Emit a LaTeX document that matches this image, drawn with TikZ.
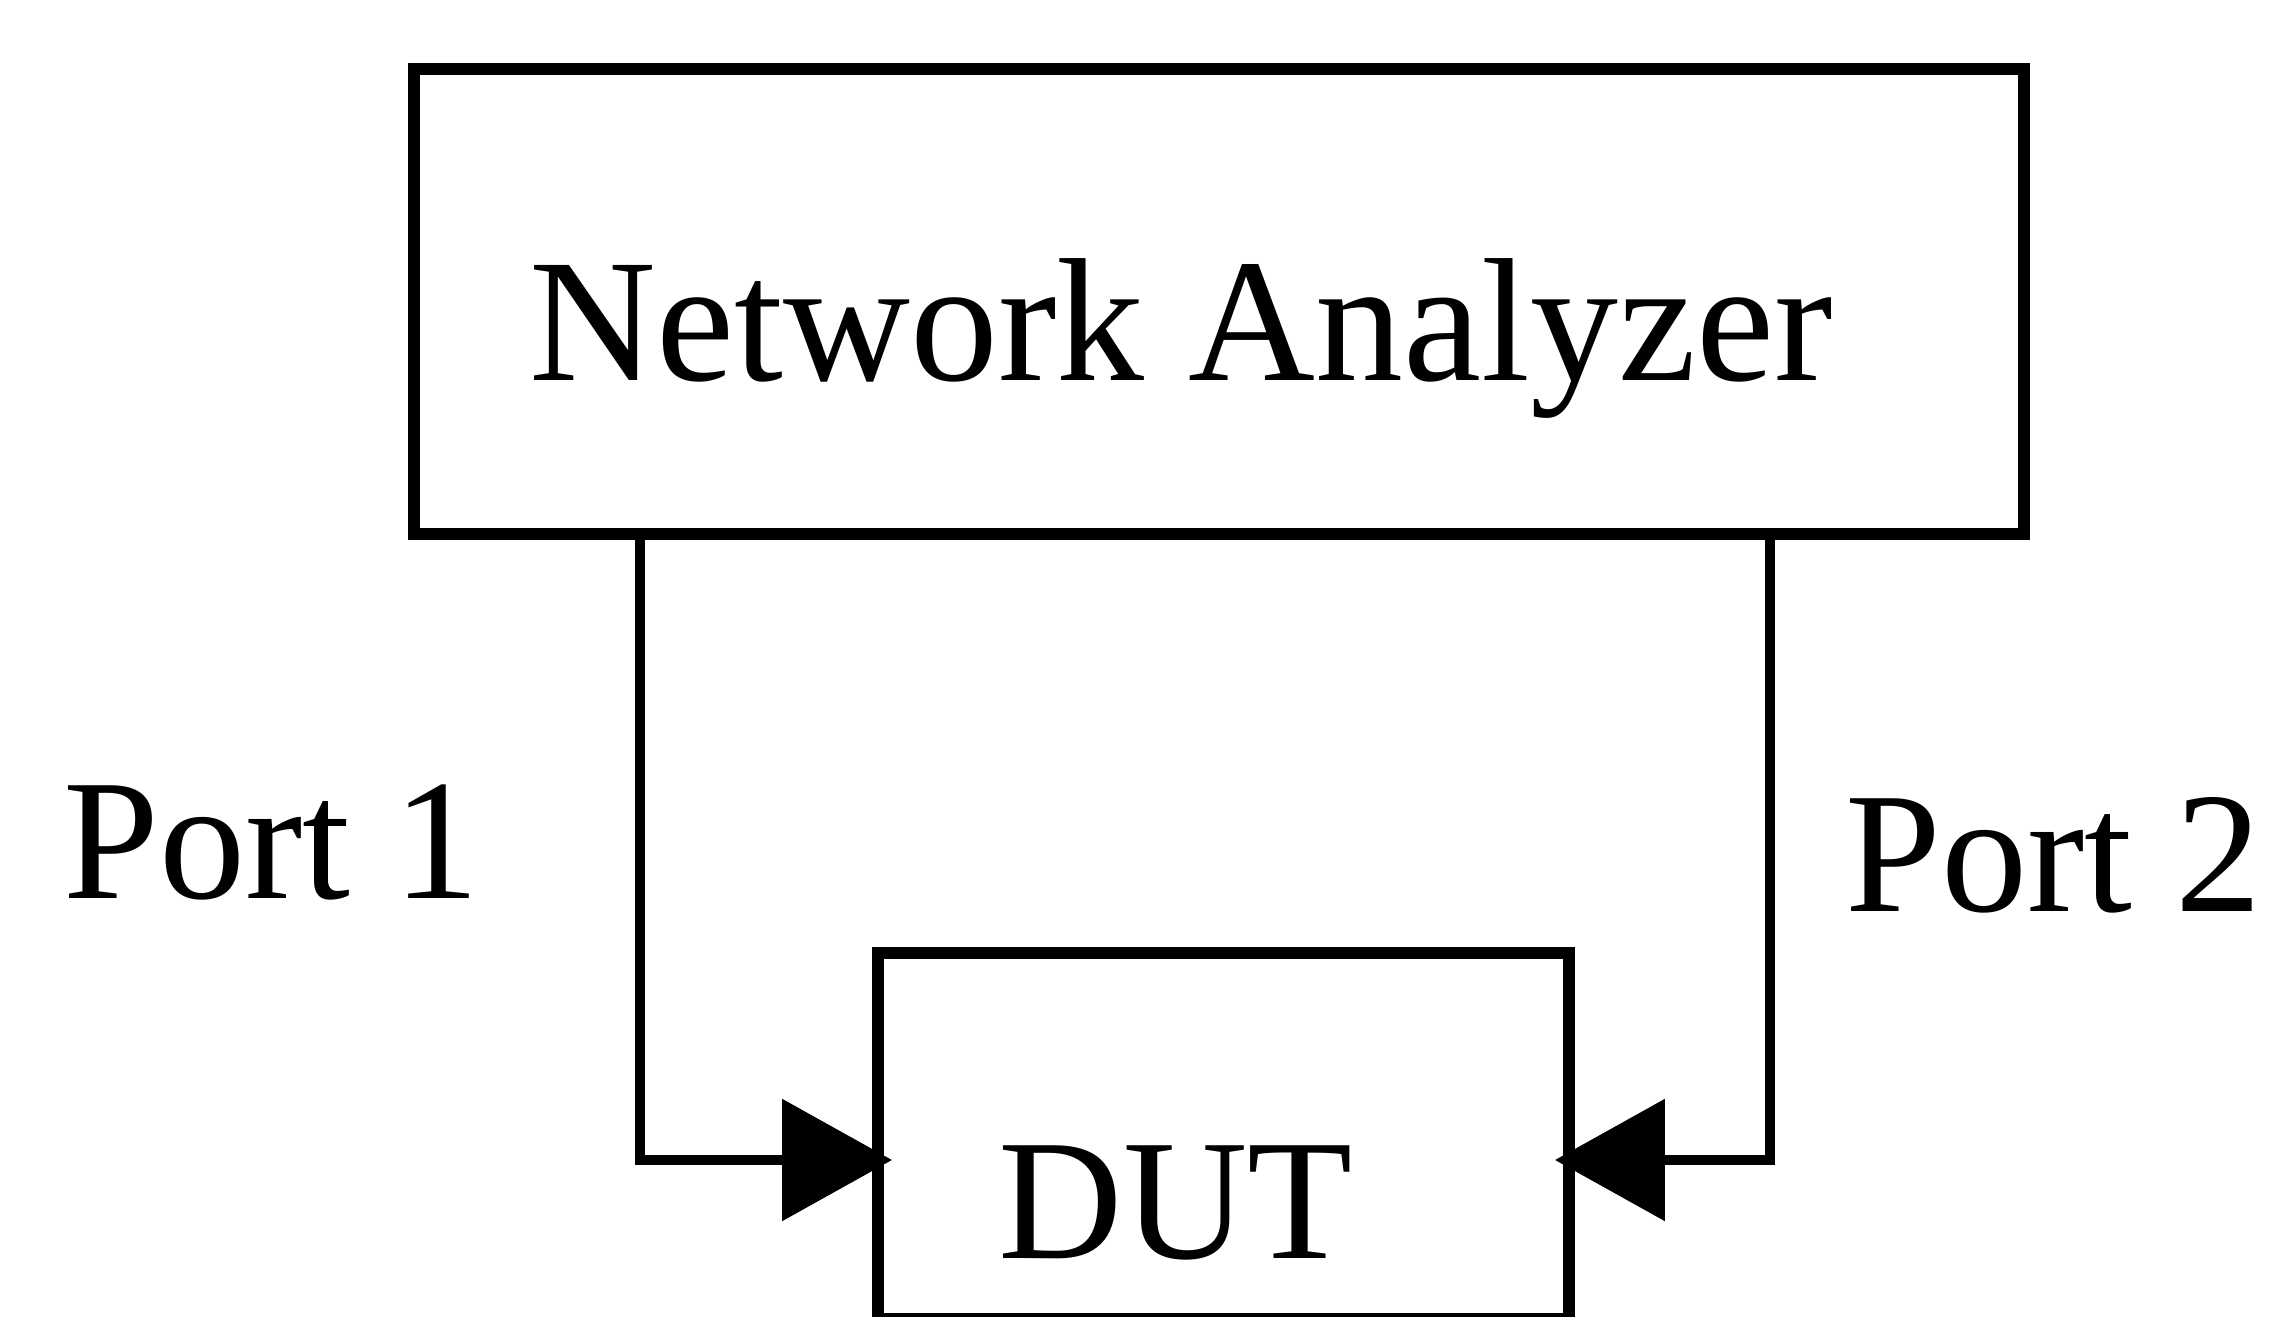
\documentclass[tikz,border=0pt]{standalone}
\usepackage{fontspec}
\setmainfont{Liberation Serif}
\usetikzlibrary{positioning,arrows.meta}
\tikzset{
  box/.style={draw=black,line width=3.4pt,inner sep=0pt},
  plain/.style={font=\fontsize{49}{58}\selectfont,inner sep=0pt,anchor=base west},
  flow/.style={-{Triangle[length=11mm,width=12mm]},draw=black,line width=2.8pt,shorten >=-2mm}}

\begin{document}
\begin{tikzpicture}
  \useasboundingbox (0,0) rectangle (22.69,13.16);
  % analyzer on top
  \node[box,minimum width=16.10cm,minimum height=4.65cm] (na) at (12.19,10.145) {};
  \node[plain,font=\fontsize{50}{60}\selectfont] (natxt) at (5.29,9.35) {Network Analyzer};
  % device under test, running off the lower edge
  \node[box,minimum width=6.91cm,minimum height=3.66cm] (dut) at (12.235,1.80) {};
  \node[plain] (duttxt) at (9.98,0.58) {DUT};
  % port labels
  \node[plain] (p1txt) at (0.63,4.17) {Port 1};
  \node[plain] (p2txt) at (18.45,4.04) {Port 2};
  % cables
  \coordinate (c1) at (6.40,1.56);
  \coordinate (c2) at (17.70,1.56);
  \draw[flow] (na.south -| c1) |- (dut.west |- c1);
  \draw[flow] (na.south -| c2) |- (dut.east |- c2);
\end{tikzpicture}
\end{document}
